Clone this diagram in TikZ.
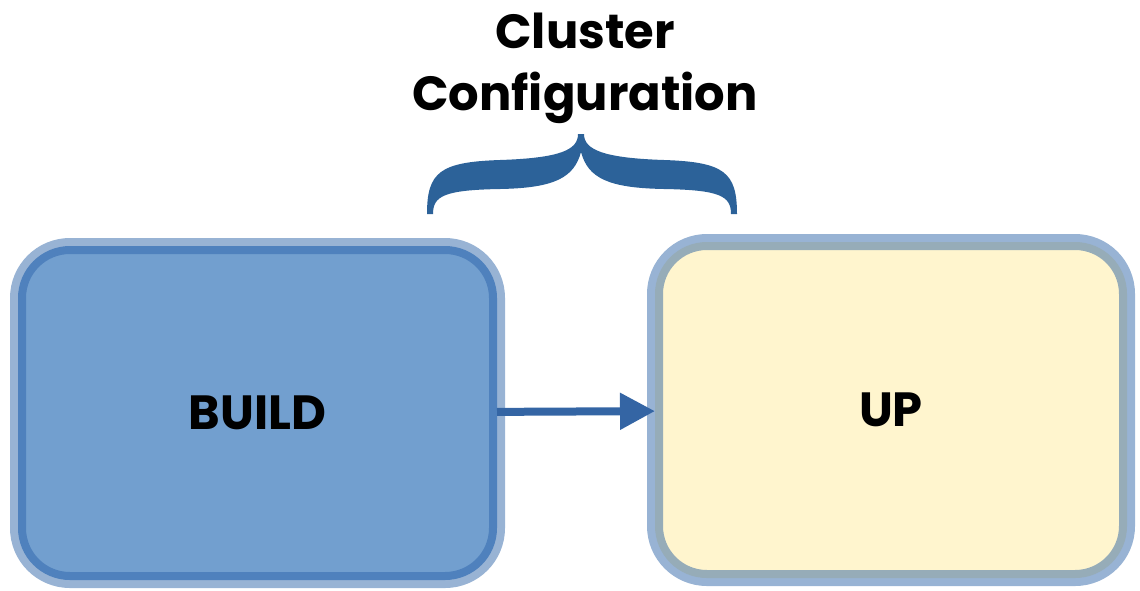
\documentclass[tikz,border=0pt]{standalone}
\usepackage{fontspec}
\setmainfont{Poppins}
\usetikzlibrary{positioning,arrows.meta}
\definecolor{buildfill}{RGB}{114,159,207}
\definecolor{builddark}{RGB}{79,129,189}
\definecolor{bandlight}{RGB}{152,179,212}
\definecolor{upfill}{RGB}{255,245,206}
\definecolor{updark}{RGB}{150,172,184}
\definecolor{arrowblue}{RGB}{52,101,164}
\definecolor{braceblue}{RGB}{44,98,153}

\begin{document}
\begin{tikzpicture}[
  x=1pt,y=-1pt,
  node distance=158pt,
  stagebox/.style={rounded corners=48pt,line width=8pt,inner sep=0pt,
    preaction={draw=bandlight,line width=24pt},
    font=\fontsize{48}{52}\selectfont\bfseries}
]
\useasboundingbox (0,0) rectangle (1140,590);
\node[stagebox,fill=buildfill,draw=builddark,minimum width=471pt,minimum height=326pt] (build) at (257.5,413) {BUILD};
\node[stagebox,fill=upfill,draw=updark,minimum width=464pt,minimum height=328pt,right=of build,yshift=3pt] (up) {UP};
\path (build) edge[-{Triangle[length=35pt,width=35pt]},line width=8pt,draw=arrowblue] (up);
% brace over the gap
\fill[braceblue] (427,214) .. controls (427,172) and (440,162) .. (500,160)
  .. controls (560,158) and (578,150) .. (578,134) -- (584,134)
  .. controls (584,150) and (604,158) .. (664,160)
  .. controls (724,162) and (737,172) .. (737,214) -- (731,214)
  .. controls (731,196) and (720,190) .. (664,189)
  .. controls (608,188) and (588,178) .. (581,152)
  .. controls (574,178) and (554,188) .. (500,189)
  .. controls (444,190) and (433,196) .. (433,214) -- cycle;
\node[align=center,inner sep=0pt,font=\fontsize{48}{62}\selectfont\bfseries] (title) at (585,68) {Cluster\\Configuration};
\end{tikzpicture}
\end{document}
